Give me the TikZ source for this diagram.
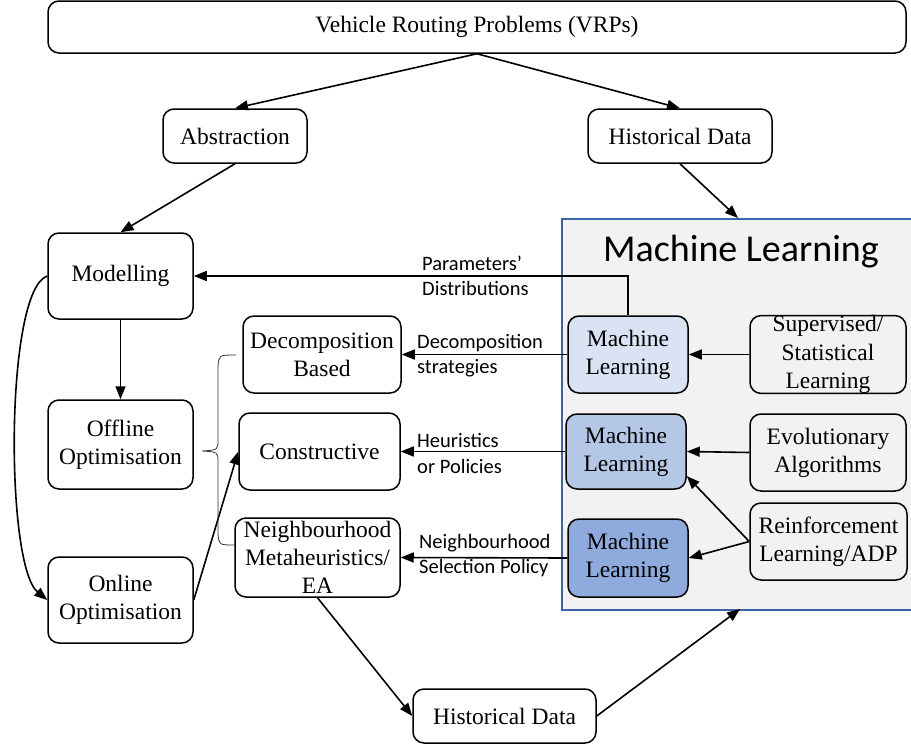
\documentclass[tikz,border=0pt]{standalone}
\usepackage{fontspec}
\setmainfont{Liberation Serif}
\newfontfamily\lblfont{Carlito}
\usetikzlibrary{arrows.meta}
\definecolor{mlblue}{HTML}{3C64A8}
\definecolor{mlgray}{HTML}{F2F2F2}
\definecolor{mlA}{HTML}{DAE3F3}
\definecolor{mlB}{HTML}{B4C7E7}
\definecolor{mlC}{HTML}{8FAADC}
\begin{document}
\begin{tikzpicture}[x=1pt,y=-1pt,
  box/.style={draw, line width=1.5pt, rounded corners=11pt, align=center,
    font=\fontsize{23.5}{28.2}\selectfont, inner sep=0pt},
  arr/.style={line width=1.6pt, -{Triangle[length=13pt,width=10pt]}},
  lbl/.style={font=\lblfont\fontsize{20.5}{25.5}\selectfont, align=left, inner sep=0pt, anchor=west}]
\useasboundingbox (0,0) rectangle (911,750);

% big machine learning panel
\node (mlbox) [draw=mlblue, fill=mlgray, line width=1.5pt, minimum width=362pt, minimum height=391pt,
  anchor=north west, inner sep=0pt] at (561,218) {};
\node (mltitle) [font=\lblfont\fontsize{38}{40}\selectfont, inner sep=0pt] at (741,252) {Machine Learning};
\coordinate (mltop) at (738,218);
\coordinate (mlbot) at (740,609);

% nodes
\node (vrp) [box, minimum width=858pt, minimum height=52pt] at (477,27) {Vehicle Routing Problems (VRPs)};
\node (abs) [box, minimum width=144pt, minimum height=54pt] at (235,136) {Abstraction};
\node (hd1) [box, minimum width=184pt, minimum height=54pt] at (680,136) {Historical Data};
\node (mod) [box, minimum width=145pt, minimum height=86pt] at (120.5,276) {Modelling};
\node (off) [box, minimum width=145pt, minimum height=89pt] at (120.5,444.5) {Offline\\Optimisation};
\node (onl) [box, minimum width=145pt, minimum height=86pt] at (120.5,600) {Online\\Optimisation};
\node (dec) [box, minimum width=158pt, minimum height=77pt] at (322,354.5) {Decomposition\\Based};
\node (con) [box, minimum width=161pt, minimum height=77pt] at (319.5,451.5) {Constructive};
\node (nei) [box, minimum width=165pt, minimum height=79pt] at (317.5,557.5) {Neighbourhood\\Metaheuristics/\\EA};
\node (ml1) [box, fill=mlA, minimum width=120pt, minimum height=77pt] at (628,354.5) {Machine\\Learning};
\node (ml2) [box, fill=mlB, minimum width=120pt, minimum height=75pt] at (626,451.5) {Machine\\Learning};
\node (ml3) [box, fill=mlC, minimum width=120pt, minimum height=78pt] at (628,558) {Machine\\Learning};
\node (sup) [box, minimum width=156pt, minimum height=77pt] at (828,354.5) {Supervised/\\Statistical\\Learning};
\node (evo) [box, minimum width=156pt, minimum height=77pt] at (828,452.5) {Evolutionary\\Algorithms};
\node (rl)  [box, minimum width=157pt, minimum height=77pt] at (828.5,541.5) {Reinforcement\\Learning/ADP};
\node (hd2) [box, minimum width=183pt, minimum height=54pt] at (504.5,716) {Historical Data};

% edge labels
\node (lpar) [lbl] at (422,276) {Parameters’\\Distributions};
\node (ldec) [lbl] at (417,355.5) {Decomposition\\strategies};
\node (lheu) [lbl] at (417,453.5) {Heuristics\\or Policies};
\node (lnei) [lbl] at (419,555.5) {Neighbourhood\\Selection Policy};

% connectors
\draw[arr] (vrp.south) -- (abs.north);
\draw[arr] (vrp.south) -- (hd1.north);
\draw[arr] (abs.south) -- (mod.north);
\draw[arr] (hd1.south) -- (mltop);
\draw[arr] (mod) -- (off);
\draw[arr] (mod.west) .. controls (5,290) and (5,565) .. (onl.west);
\draw[arr] (onl.east) -- (con.west);
\draw[arr] (ml1.north) |- (mod.east);
\draw[arr] (ml1.west) -- (dec.east);
\draw[arr] (ml2.west) -- (con.west -| con.east);
\draw[arr] (ml3.west) -- (nei.east);
\draw[arr] (sup.west) -- (ml1.east);
\draw[arr] (evo.west) -- (ml2.east);
\draw[arr] (rl.west) -- (ml2.-22);
\draw[arr] (rl.west) -- (ml3.east);
\draw[arr] (nei.south) -- (hd2.west);
\draw[arr] (hd2.east) -- (mlbot);

% brace
\draw[line width=0.8pt, black!80] (236,355) .. controls (219,355) .. (218,366) -- (218,440)
  .. controls (218,450) .. (202,451) .. controls (218,452) .. (218,462) -- (218,534)
  .. controls (219,545) .. (235,545);
\end{tikzpicture}
\end{document}
